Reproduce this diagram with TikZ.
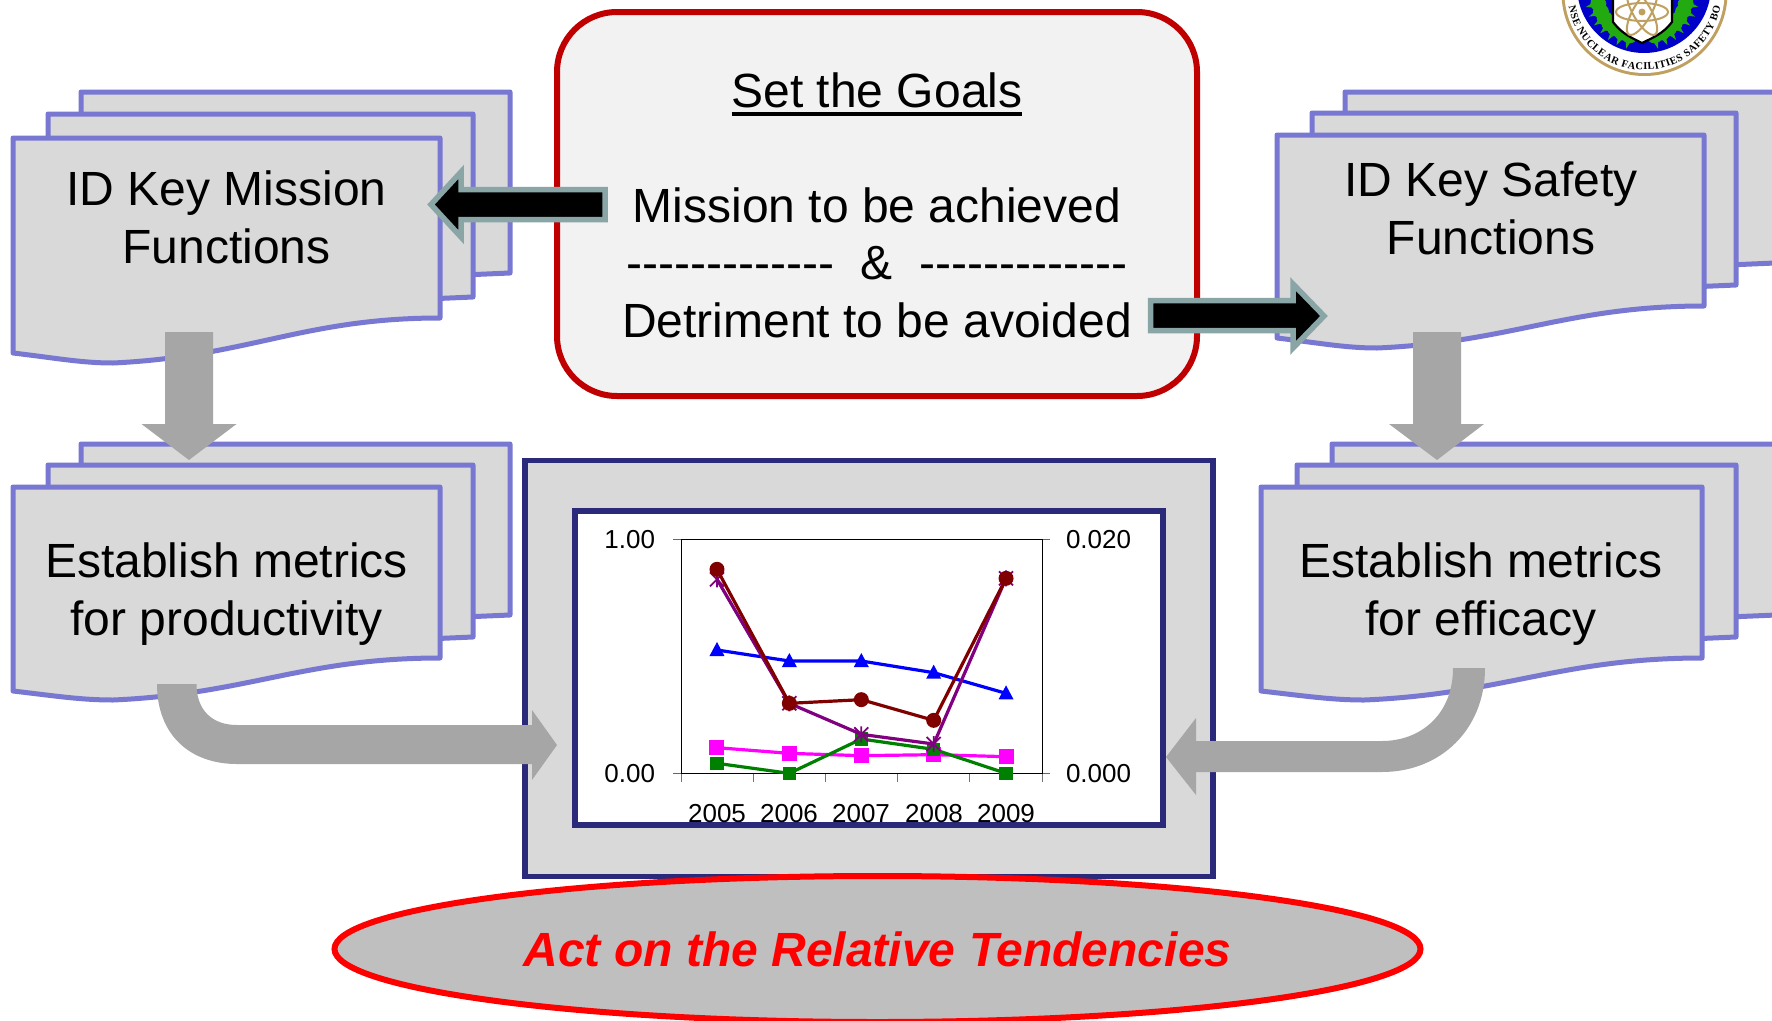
\documentclass[tikz,border=0pt]{standalone}
\usepackage{fontspec}
\setmainfont{Liberation Sans}
\newfontfamily\dashfont{Liberation Sans}
\newfontfamily\sealfont{Liberation Serif}
\usetikzlibrary{shapes.geometric,decorations.text}
\definecolor{docedge}{HTML}{7878D2}
\definecolor{docfill}{HTML}{D9D9D9}
\definecolor{flowgrey}{HTML}{A6A6A6}
\definecolor{tealedge}{HTML}{8AA5A5}
\definecolor{navy}{HTML}{2B2A7A}
\definecolor{goalred}{HTML}{C00000}
\definecolor{sealgold}{HTML}{C0A060}
\definecolor{sealgreen}{HTML}{22AA10}
\definecolor{sealblue}{HTML}{0000C8}
\definecolor{serblue}{HTML}{0000FF}
\definecolor{sermag}{HTML}{FF00FF}
\definecolor{sergreen}{HTML}{008000}
\definecolor{serpurple}{HTML}{800080}
\definecolor{serred}{HTML}{800000}
\tikzset{
  sheetstyle/.style={draw=docedge,fill=docfill,line width=5pt,line join=round},
  label/.style={inner sep=0pt,outer sep=0pt,align=center,anchor=base,font=\fontsize{48}{57.5}\selectfont},
  chartlabel/.style={inner sep=0pt,outer sep=0pt,font=\fontsize{26}{28}\selectfont},
  flowarrow/.style={fill=flowgrey},
  blockarrow/.style={draw=tealedge,fill=black,line width=5.5pt,line join=miter},
  serieswidth/.style={line width=3.2pt,line join=round},
}
\newcommand{\backsheet}[4]{% x0,x1,ytop,yR
  \draw[sheetstyle] (#1,#3) -- (#2,#3) -- (#2,#4) -- ({#2-70},{#4+3}) -- (#1,{#4+3}) -- cycle;}
\newcommand{\frontsheet}[6]{% x0,x1,ytop,yR,dL,dM
  \pgfmathsetmacro\wdth{#2-#1}
  \draw[sheetstyle] (#1,#3) -- (#2,#3) -- (#2,#4)
    .. controls ({#1+.68*\wdth},#4) and ({#1+.55*\wdth},{#4+.86*#6}) .. ({#1+.234*\wdth},{#4+#6})
    .. controls ({#1+.16*\wdth},{#4+#6}) and ({#1+.1*\wdth},{#4+#5+5}) .. (#1,{#4+#5}) -- cycle;}
\begin{document}
\begin{tikzpicture}[x=1pt,y=-1pt]
\useasboundingbox (0,0) rectangle (1772,1020);
\fill[white] (0,0) rectangle (1772,1020);

% seal
\begin{scope}
\clip (0,0) rectangle (1772,1020);
\fill[sealgold] (1644.5,-7) circle[radius=83pt];
\fill[white] (1644.5,-7) circle[radius=80pt];
\fill[sealblue] (1644,-14) circle[radius=67pt];
\foreach \a in {176,166,...,106}{
  \fill[sealgreen] ({1642+45*cos(\a)},{-7+45*sin(\a)}) ellipse[x radius=8pt,y radius=7pt];
  \fill[sealgreen] ({1642+58*cos(\a)},{-7+58*sin(\a)}) -- ({1642+42*cos(\a+7)},{-7+42*sin(\a+7)}) -- ({1642+42*cos(\a-7)},{-7+42*sin(\a-7)}) -- cycle;
}
\foreach \a in {4,14,...,74}{
  \fill[sealgreen] ({1642+45*cos(\a)},{-7+45*sin(\a)}) ellipse[x radius=8pt,y radius=7pt];
  \fill[sealgreen] ({1642+58*cos(\a)},{-7+58*sin(\a)}) -- ({1642+42*cos(\a+7)},{-7+42*sin(\a+7)}) -- ({1642+42*cos(\a-7)},{-7+42*sin(\a-7)}) -- cycle;
}
\draw[black,fill=white,line width=2.2pt] (1613,-5) -- (1613,22) .. controls (1622,34) and (1632,38) .. (1642,43) .. controls (1652,38) and (1663,34) .. (1672,22) -- (1672,-5) -- cycle;
\foreach \r in {0,60,120}{
  \draw[sealgold,line width=2pt,rotate around={\r:(1642,12)}] (1642,12) ellipse[x radius=26pt,y radius=9pt];
}
\fill[sealgold] (1642,12) circle[radius=3.5pt];
\path[decorate,decoration={text along path,text align={fit to path},
  text={|\sealfont\bfseries\fontsize{10.5}{11}\selectfont|NSE NUCLEAR FACILITIES SAFETY BO}}]
  plot[domain=170:10,samples=60] ({1644.5+77*cos(\x)},{-7+77*sin(\x)});
\end{scope}

% left stacks
\backsheet{81}{510}{92}{273}
\backsheet{48}{473}{114}{297}
\frontsheet{13}{440}{138}{318}{35}{45}
\backsheet{81}{510}{444}{615}
\backsheet{48}{473}{465}{637}
\frontsheet{13}{440}{487}{658}{33}{42}
% right stacks
\backsheet{1345}{1775}{92}{263}
\backsheet{1312}{1736}{113}{285}
\frontsheet{1277}{1704}{135}{306}{32}{42}
\backsheet{1332}{1776}{444}{615}
\backsheet{1297}{1736}{465}{637}
\frontsheet{1261}{1702}{487}{658}{33}{42}

\node[label] (mission) at (226.5,263) {ID Key Mission\\Functions};
\node[label] (safety) at (1491,254) {ID Key Safety\\Functions};
\node[label] (productivity) at (226.5,635) {Establish metrics\\for productivity};
\node[label] (efficacy) at (1481,635) {Establish metrics\\for efficacy};

% central frames
\node[draw=navy,fill=docfill,line width=5.5pt,minimum width=688pt,minimum height=416pt,inner sep=0pt,outer sep=0pt] (outerframe) at (869,668.5) {};
\node[draw=navy,fill=white,line width=6pt,minimum width=588pt,minimum height=314pt,inner sep=0pt,outer sep=0pt] (chartframe) at (869,668) {};

% chart
\begin{scope}[shift={(560,500)},x=0.39541pt,y=-0.33333pt]
\foreach \tx in {307,489,671,854,1036,1220}{\draw[black!55,line width=1.2pt] (\tx,820) -- (\tx,845);}
\draw[black!60,line width=1.2pt] (287,118) -- (307,118) (1220,118) -- (1240,118) (287,820) -- (307,820) (1220,820) -- (1240,820);
\draw[black,line width=1.3pt] (307,820) -- (307,118) -- (1220,118) -- (1220,820) -- cycle;
% blue triangles
\draw[serblue,serieswidth] (397,450) -- (580,483) -- (762,483) -- (945,518) -- (1128,580);
\foreach \px/\py in {397/450,580/483,762/483,945/518,1128/580}{
  \fill[serblue] (\px,\py) +(0pt,8pt) -- +(-7.5pt,-6pt) -- +(7.5pt,-6pt) -- cycle;}
% magenta squares
\draw[sermag,serieswidth] (397,743) -- (580,760) -- (762,767) -- (945,764) -- (1128,770);
\foreach \px/\py in {397/743,580/760,762/767,945/764,1128/770}{
  \fill[sermag] (\px,\py) +(-7.5pt,-7.5pt) rectangle +(7.5pt,7.5pt);}
% green squares
\draw[sergreen,serieswidth] (397,790) -- (580,820) -- (762,717) -- (945,748) -- (1128,820);
\foreach \px/\py in {397/790,580/820,762/717,945/748,1128/820}{
  \fill[sergreen] (\px,\py) +(-6.7pt,-6.7pt) rectangle +(6.7pt,6.7pt);}
% purple asterisks
\draw[serpurple,serieswidth] (397,238) -- (580,610) -- (762,703) -- (945,732) -- (1128,235);
\foreach \px/\py in {397/238,580/610,762/703,945/732,1128/235}{
  \draw[serpurple,line width=1.8pt] (\px,\py) +(-7pt,-7pt) -- +(7pt,7pt) +(-7pt,7pt) -- +(7pt,-7pt) +(0pt,-8pt) -- +(0pt,8pt);}
% dark red circles
\draw[serred,serieswidth] (397,208) -- (580,610) -- (762,599) -- (945,661) -- (1128,235);
\foreach \px/\py in {397/208,580/610,762/599,945/661,1128/235}{
  \fill[serred] (\px,\py) circle[radius=7.5pt];}
\end{scope}
\node[chartlabel,anchor=base east] (ltop) at (655,548) {1.00};
\node[chartlabel,anchor=base east] (lbot) at (655,782) {0.00};
\node[chartlabel,anchor=base west] (rtop) at (1066,548) {0.020};
\node[chartlabel,anchor=base west] (rbot) at (1066,782) {0.000};
\node[chartlabel,anchor=base] (y2005) at (717,822) {2005};
\node[chartlabel,anchor=base] (y2006) at (789,822) {2006};
\node[chartlabel,anchor=base] (y2007) at (861,822) {2007};
\node[chartlabel,anchor=base] (y2008) at (934,822) {2008};
\node[chartlabel,anchor=base] (y2009) at (1006,822) {2009};

% goal box
\node[draw=goalred,fill=black!5,line width=6pt,rounded corners=60pt,minimum width=640pt,minimum height=384pt,inner sep=0pt,outer sep=0pt] (goalbox) at (877,204) {};
\node[label] (goals) at (877,107) {Set the Goals};
\draw[black,line width=3.5pt] ([yshift=-7pt]goals.base west) -- ([yshift=-7pt]goals.base east);
\node[label] (achieved) at (877,222) {Mission to be achieved};
\node[label] (amp) at (877,279) {\dashfont -------------\ \ \&\ \ -------------};
\node[label] (avoided) at (877,337) {Detriment to be avoided};

% block arrows
\draw[blockarrow] (605,189.5) -- (461,189.5) -- (461,172) -- (431,204.5) -- (461,237) -- (461,219.5) -- (605,219.5) -- cycle;
\draw[blockarrow] (1150.5,300.5) -- (1293,300.5) -- (1293,284) -- (1324,316) -- (1293,348) -- (1293,330.5) -- (1150.5,330.5) -- cycle;

% grey flow arrows
\fill[flowgrey] (165,332) -- (213,332) -- (213,424) -- (236.5,424) -- (189,460) -- (141.5,424) -- (165,424) -- cycle;
\fill[flowgrey] (1413,332) -- (1461,332) -- (1461,424) -- (1484,424) -- (1437,460) -- (1389,424) -- (1413,424) -- cycle;
\fill[flowgrey] (157,684) .. controls (157,735) and (190,764) .. (237,764) -- (532,764) -- (532,780) -- (557,745) -- (532,710) -- (532,725) -- (237,725) .. controls (212,725) and (196.5,710) .. (196.5,684) -- cycle;
\fill[flowgrey] (1485,668) .. controls (1485,730) and (1440,772) .. (1382,772) -- (1196,772) -- (1196,795) -- (1166,757) -- (1196,718) -- (1196,741) -- (1382,741) .. controls (1420,741) and (1453,715) .. (1453,668) -- cycle;

% ellipse
\node[ellipse,draw=red,fill=black!25,line width=6pt,minimum width=1086pt,minimum height=146pt,inner sep=0pt,outer sep=0pt,text=red,font=\fontsize{48}{57.5}\selectfont\bfseries\itshape] (act) at (877.5,949) {Act on the Relative Tendencies};
\end{tikzpicture}
\end{document}
